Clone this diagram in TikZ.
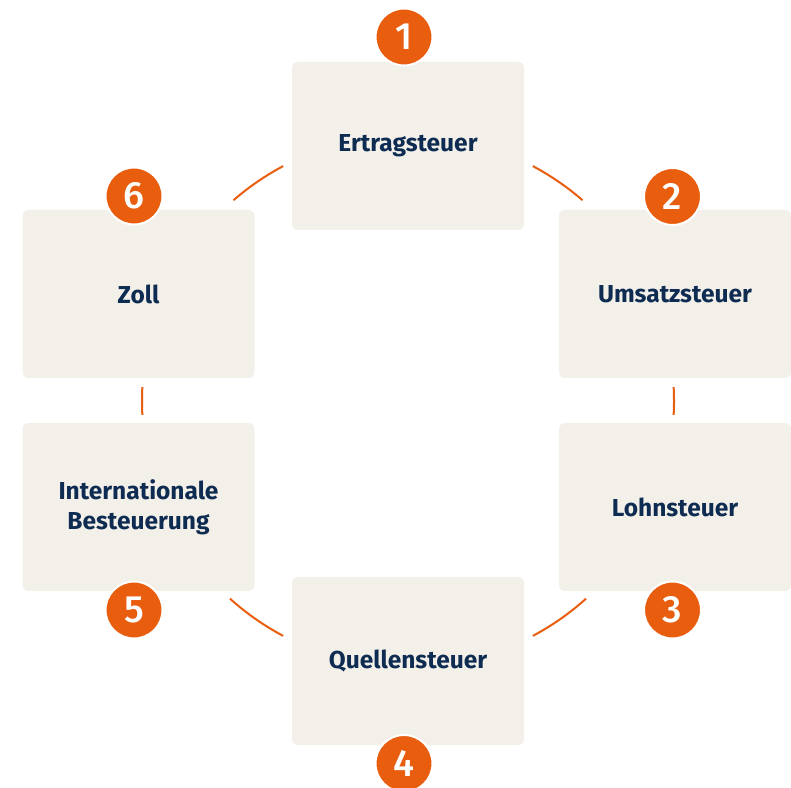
\documentclass[tikz,border=0pt]{standalone}
\usepackage{fontspec}
\setmainfont{Fira Sans}
\newfontfamily\numfont{Fira Sans Medium}
\definecolor{boxfill}{HTML}{F3F0EA}
\definecolor{accent}{HTML}{E95D0F}
\definecolor{navy}{HTML}{0E2C51}
\tikzset{
  taxbox/.style={fill=boxfill, rounded corners=6pt, minimum width=232pt, minimum height=168pt,
    inner sep=0pt, text=navy, font=\fontsize{24.5}{30}\selectfont\bfseries, align=center},
  numcircle/.style={circle, fill=accent, draw=white, line width=2pt, minimum size=57pt,
    inner sep=0pt, text=white, font=\numfont\fontsize{38}{38}\selectfont},
  ring/.style={draw=accent, line width=2pt}
}
\begin{document}
\begin{tikzpicture}[x=1pt,y=1pt]
  \fill[white] (0,0) rectangle (791,787);
  \useasboundingbox (0,0) rectangle (791,787);
  \coordinate (ringcenter) at (408,386);
  % connectors (arcs of one ring)
  \draw[ring] (ringcenter) ++(118:266pt) arc[start angle=118, end angle=131, radius=266pt];
  \draw[ring] (ringcenter) ++(49:266pt) arc[start angle=49, end angle=62, radius=266pt];
  \draw[ring] (ringcenter) ++(177:266pt) arc[start angle=177, end angle=183, radius=266pt];
  \draw[ring] (ringcenter) ++(-3:266pt) arc[start angle=-3, end angle=3, radius=266pt];
  \draw[ring] (ringcenter) ++(228:266pt) arc[start angle=228, end angle=242, radius=266pt];
  \draw[ring] (ringcenter) ++(298:266pt) arc[start angle=298, end angle=312, radius=266pt];
  % boxes
  \node[taxbox] (b1) at (408,641) {Ertragsteuer};
  \node[taxbox] (b2) at (675,493) {Umsatzsteuer};
  \node[taxbox] (b3) at (675,280) {Lohnsteuer};
  \node[taxbox] (b4) at (408,126) {Quellensteuer};
  \node[taxbox] (b5) at (138.5,280) {Internationale\\Besteuerung};
  \node[taxbox] (b6) at (138.5,493) {Zoll};
  % number circles
  \node[numcircle] (n1) at (404,750) {1};
  \node[numcircle] (n2) at (672.5,590.5) {2};
  \node[numcircle] (n3) at (672.5,177) {3};
  \node[numcircle] (n4) at (404,23.5) {4};
  \node[numcircle] (n5) at (134,177) {5};
  \node[numcircle] (n6) at (134,591) {6};
\end{tikzpicture}
\end{document}
